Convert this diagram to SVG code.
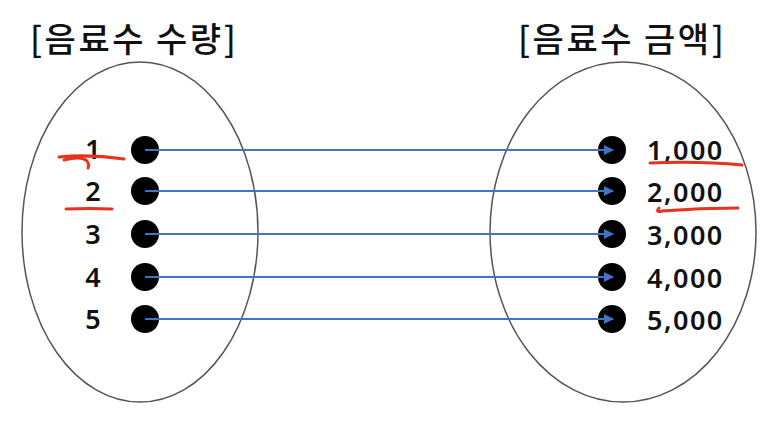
<svg xmlns="http://www.w3.org/2000/svg" width="772" height="422" viewBox="0 0 772 422">
<defs>
<style>
.title{font-family:"Noto Sans CJK KR","Noto Sans",sans-serif;font-size:34px;font-weight:500;fill:#111;letter-spacing:2.5px}
.lbl{font-family:"Noto Sans","Noto Sans CJK KR",sans-serif;font-size:27px;font-weight:600;fill:#111}
.num{letter-spacing:1.5px}
.ell{fill:none;stroke:#555;stroke-width:1.5}
.dot{fill:#000}
.conn{stroke:#4472C4;stroke-width:2;fill:none;marker-end:url(#arr)}
.red{stroke:#e8321e;stroke-width:3;fill:none;stroke-linecap:round}
</style>
<marker id="arr" viewBox="0 0 10 10" refX="9" refY="5" markerWidth="5" markerHeight="5" orient="auto" markerUnits="strokeWidth">
<path d="M0,0 L10,5 L0,10 z" fill="#4472C4"/>
</marker>
</defs>
<rect width="772" height="422" fill="#fff"/>
<text class="title" x="30" y="52">[음료수 수량]</text>
<text class="title" x="518" y="52">[음료수 금액]</text>
<g id="domain">
<ellipse class="ell" cx="140" cy="232" rx="118" ry="170"/>
</g>
<g id="codomain">
<ellipse class="ell" cx="623" cy="232" rx="133" ry="170"/>
</g>
<g id="n1"><circle class="dot" cx="145" cy="150" r="14"/><text class="lbl" x="93" y="159" text-anchor="middle">1</text></g>
<g id="n2"><circle class="dot" cx="145" cy="191" r="14"/><text class="lbl" x="93" y="201" text-anchor="middle">2</text></g>
<g id="n3"><circle class="dot" cx="145" cy="234" r="14"/><text class="lbl" x="93" y="244" text-anchor="middle">3</text></g>
<g id="n4"><circle class="dot" cx="145" cy="277" r="14"/><text class="lbl" x="93" y="287" text-anchor="middle">4</text></g>
<g id="n5"><circle class="dot" cx="145" cy="319" r="14"/><text class="lbl" x="93" y="329" text-anchor="middle">5</text></g>
<g id="m1"><circle class="dot" cx="612" cy="150" r="14"/><text class="lbl num" x="647" y="160">1,000</text></g>
<g id="m2"><circle class="dot" cx="612" cy="191" r="14"/><text class="lbl num" x="647" y="202">2,000</text></g>
<g id="m3"><circle class="dot" cx="612" cy="234" r="14"/><text class="lbl num" x="647" y="245">3,000</text></g>
<g id="m4"><circle class="dot" cx="612" cy="277" r="14"/><text class="lbl num" x="647" y="288">4,000</text></g>
<g id="m5"><circle class="dot" cx="612" cy="319" r="14"/><text class="lbl num" x="647" y="330">5,000</text></g>
<g id="connectors">
<line class="conn" x1="145" y1="150" x2="613" y2="150"/>
<line class="conn" x1="145" y1="191" x2="613" y2="191"/>
<line class="conn" x1="145" y1="234" x2="613" y2="234"/>
<line class="conn" x1="145" y1="277" x2="613" y2="277"/>
<line class="conn" x1="145" y1="319" x2="613" y2="319"/>
</g>
<g id="annotations">
<path class="red" d="M59,157 Q90,154 124,159"/>
<path class="red" d="M64,160 Q80,156 86,160 Q90,164 88,168"/>
<path class="red" d="M66,209 Q90,208 112,209"/>
<path class="red" d="M650,163 Q700,161 742,165"/>
<path class="red" d="M659,208 Q655,213 662,211 Q700,208 738,208"/>
</g>
</svg>
